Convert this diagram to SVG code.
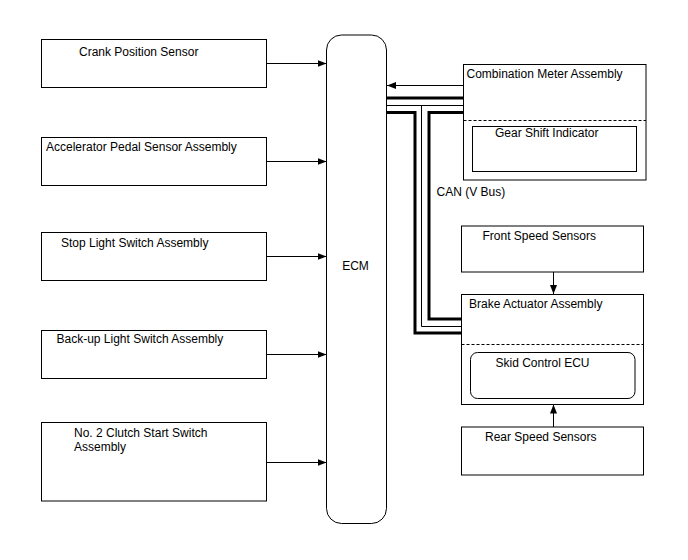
<svg xmlns="http://www.w3.org/2000/svg" width="688" height="560" viewBox="0 0 688 560">
<style>
.box{fill:#fff;stroke:#000;stroke-width:1}
.t{font-family:"Liberation Sans",Arial,sans-serif;font-size:12px;fill:#000}
.c{fill:none;stroke:#000;stroke-width:1}
.thick{fill:none;stroke:#000;stroke-width:3}
.dash{stroke:#000;stroke-width:1;stroke-dasharray:3,2}
</style>
<defs>
<marker id="ah" markerWidth="9" markerHeight="7" refX="9" refY="3.5" orient="auto" markerUnits="userSpaceOnUse">
<path d="M0,0 L9,3.5 L0,7 Z" fill="#000"/>
</marker>
</defs>
<rect width="688" height="560" fill="#fff"/>
<g id="connectors">
<line class="c" x1="266" y1="63.5" x2="326.5" y2="63.5" marker-end="url(#ah)"/>
<line class="c" x1="266" y1="161.5" x2="326.5" y2="161.5" marker-end="url(#ah)"/>
<line class="c" x1="266" y1="256.5" x2="326.5" y2="256.5" marker-end="url(#ah)"/>
<line class="c" x1="266" y1="354.5" x2="326.5" y2="354.5" marker-end="url(#ah)"/>
<line class="c" x1="266" y1="462.5" x2="326.5" y2="462.5" marker-end="url(#ah)"/>
<line class="c" x1="463" y1="85.5" x2="387" y2="85.5" marker-end="url(#ah)"/>
<line class="c" x1="553.5" y1="272" x2="553.5" y2="294" marker-end="url(#ah)"/>
<line class="c" x1="553.5" y1="427" x2="553.5" y2="404.5" marker-end="url(#ah)"/>
<line class="thick" x1="387" y1="98" x2="463" y2="98"/>
<line class="c" x1="387" y1="105.5" x2="463" y2="105.5"/>
<polyline class="c" points="421.5,105.5 421.5,326.5 462,326.5"/>
<polyline class="thick" points="387,112.5 415,112.5 415,333 462,333"/>
<polyline class="thick" points="463,112.5 429,112.5 429,319 462,319"/>
</g>
<g id="crank"><rect class="box" x="41.5" y="39.5" width="225" height="48"/><text class="t" x="79" y="56">Crank Position Sensor</text></g>
<g id="accel"><rect class="box" x="41.5" y="137.5" width="225" height="48"/><text class="t" x="46" y="151">Accelerator Pedal Sensor Assembly</text></g>
<g id="stop"><rect class="box" x="41.5" y="232.5" width="225" height="48"/><text class="t" x="61" y="246.5">Stop Light Switch Assembly</text></g>
<g id="backup"><rect class="box" x="41.5" y="330.5" width="225" height="48"/><text class="t" x="56.5" y="343">Back-up Light Switch Assembly</text></g>
<g id="clutch"><rect class="box" x="41.5" y="422.5" width="225" height="78.5"/><text class="t" x="74" y="436.5">No. 2 Clutch Start Switch</text><text class="t" x="74" y="450.5">Assembly</text></g>
<g id="ecm"><rect class="box" x="326.5" y="35" width="60" height="488.5" rx="15" ry="15"/><text class="t" x="355.5" y="270" text-anchor="middle">ECM</text></g>
<g id="meter"><rect class="box" x="463.5" y="64.5" width="182.5" height="115.5"/><text class="t" x="466.5" y="77.5">Combination Meter Assembly</text><line class="dash" x1="463.5" y1="120.5" x2="646" y2="120.5"/>
<g id="gear"><rect class="box" x="472.5" y="126.5" width="164" height="45"/><text class="t" x="495" y="137">Gear Shift Indicator</text></g></g>
<text class="t" x="436.5" y="196">CAN (V Bus)</text>
<g id="front"><rect class="box" x="461.5" y="226" width="182" height="46"/><text class="t" x="482.5" y="239.5">Front Speed Sensors</text></g>
<g id="brake"><rect class="box" x="461.5" y="294.5" width="182" height="110"/><text class="t" x="469" y="307.5">Brake Actuator Assembly</text><line class="dash" x1="461.5" y1="344.5" x2="643.5" y2="344.5"/>
<g id="skid"><rect class="box" x="470.5" y="352.5" width="164.5" height="46" rx="7" ry="7"/><text class="t" x="495.5" y="366.5">Skid Control ECU</text></g></g>
<g id="rear"><rect class="box" x="461.5" y="427" width="182" height="48"/><text class="t" x="485" y="441">Rear Speed Sensors</text></g>
</svg>
